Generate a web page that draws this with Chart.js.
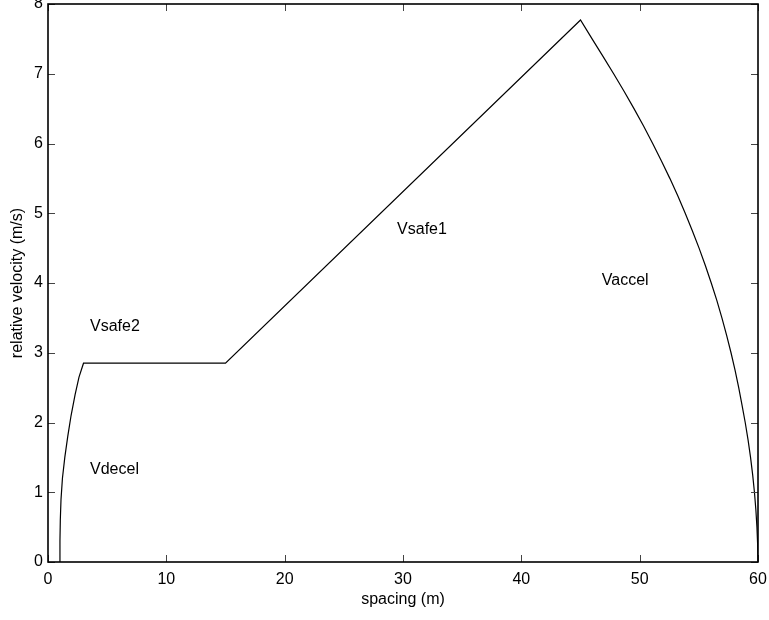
<!DOCTYPE html>
<html>
<head>
<meta charset="utf-8">
<script src="https://cdn.jsdelivr.net/npm/chart.js@4.4.1/dist/chart.umd.min.js"></script>
<style>
  body { margin: 0; background: #fff; }
  #wrap { width: 769px; height: 620px; }
</style>
</head>
<body>
<div id="wrap"><canvas id="plot" width="769" height="620"></canvas></div>
<script>
// spacing (m) vs relative velocity (m/s)
var decelX = [1.0, 1.01, 1.04, 1.1, 1.22, 1.42, 1.67, 1.95, 2.29, 2.62, 3.0];
var decelV = [0.0, 0.3, 0.6, 0.9, 1.2, 1.5, 1.8, 2.1, 2.4, 2.65, 2.85];
var safe2X = [3.0, 15.0];
var safe2V = [2.85, 2.85];
var safe1X = [15.0, 45.0];
var safe1V = [2.85, 7.77];
var accelX = [45.0, 45.98, 46.9, 47.8, 48.68, 49.52, 50.33, 51.1, 51.84, 52.55, 53.22, 53.85, 54.45, 55.02, 55.55, 56.05,
              56.52, 56.95, 57.35, 57.72, 58.06, 58.37, 58.65, 58.92, 59.16, 59.37, 59.55, 59.7, 59.82, 59.91, 59.97, 60.0];
var accelV = [7.77, 7.5, 7.25, 7.0, 6.75, 6.5, 6.25, 6.0, 5.75, 5.5, 5.25, 5.0, 4.75, 4.5, 4.25, 4.0,
              3.75, 3.5, 3.25, 3.0, 2.75, 2.5, 2.25, 2.0, 1.75, 1.5, 1.25, 1.0, 0.75, 0.5, 0.25, 0.0];

var xTicks = [0, 10, 20, 30, 40, 50, 60];
var yTicks = [0, 1, 2, 3, 4, 5, 6, 7, 8];

var regionNames = ['Vsafe2', 'Vdecel', 'Vsafe1', 'Vaccel'];
var regionX = [3.55, 3.55, 29.5, 46.8];
var regionY = [3.38, 1.33, 4.77, 4.04];

function toPoints(xs, vs) {
  var pts = [];
  for (var i = 0; i < xs.length; i++) pts.push({x: xs[i], y: vs[i]});
  return pts;
}
var curve = toPoints(decelX, decelV)
  .concat(toPoints(safe2X, safe2V))
  .concat(toPoints(safe1X, safe1V))
  .concat(toPoints(accelX, accelV));

var fontFam = '"Liberation Sans", Arial, Helvetica, sans-serif';

// matlab-like box with inward ticks, plus region labels
var boxPlugin = {
  id: 'boxPlugin',
  afterDraw: function(chart) {
    var c = chart.ctx, a = chart.chartArea;
    var xs = chart.scales.x, ys = chart.scales.y;
    c.save();
    c.strokeStyle = '#444';
    c.lineWidth = 1;
    c.beginPath();
    xTicks.forEach(function(t) {
      var px = Math.round(xs.getPixelForValue(t)) + 0.5;
      c.moveTo(px, a.bottom); c.lineTo(px, a.bottom - 7);
      c.moveTo(px, a.top); c.lineTo(px, a.top + 7);
    });
    yTicks.forEach(function(t) {
      var py = Math.round(ys.getPixelForValue(t)) + 0.5;
      c.moveTo(a.left, py); c.lineTo(a.left + 7, py);
      c.moveTo(a.right, py); c.lineTo(a.right - 7, py);
    });
    c.stroke();
    c.strokeStyle = '#000';
    c.lineWidth = 1.6;
    c.strokeRect(a.left, a.top, a.right - a.left, a.bottom - a.top);

    c.fillStyle = '#000';
    c.font = '16px ' + fontFam;
    c.textAlign = 'left';
    c.textBaseline = 'middle';
    for (var i = 0; i < regionNames.length; i++) {
      c.fillText(regionNames[i], xs.getPixelForValue(regionX[i]), ys.getPixelForValue(regionY[i]));
    }
    c.restore();
  }
};

var plot = document.getElementById('plot').getContext('2d');
var velChart = new Chart(plot, {
  type: 'scatter',
  data: {
    datasets: [{
      data: curve,
      showLine: true,
      borderColor: '#000',
      borderWidth: 1.2,
      pointRadius: 0,
      tension: 0,
      fill: false
    }]
  },
  options: {
    responsive: false,
    animation: false,
    layout: { padding: { top: 4, right: 11, left: 0, bottom: 0 } },
    plugins: { legend: { display: false }, tooltip: { enabled: false } },
    scales: {
      x: {
        type: 'linear', min: 0, max: 60,
        afterFit: function(s) { s.height = 58; s.paddingLeft = 0; s.paddingRight = 0; },
        afterBuildTicks: function(s) { s.ticks = xTicks.map(function(v) { return {value: v}; }); },
        grid: { display: false, drawTicks: false },
        border: { display: false },
        ticks: { color: '#000', font: { size: 16, family: fontFam }, padding: 8, maxRotation: 0 },
        title: { display: true, text: 'spacing (m)', color: '#000', font: { size: 16, family: fontFam }, padding: { top: 0, bottom: 11 } }
      },
      y: {
        type: 'linear', min: 0, max: 8,
        afterFit: function(s) { s.width = 48; s.paddingTop = 0; s.paddingBottom = 0; },
        afterBuildTicks: function(s) { s.ticks = yTicks.map(function(v) { return {value: v}; }); },
        grid: { display: false, drawTicks: false },
        border: { display: false },
        ticks: { color: '#000', font: { size: 16, family: fontFam }, padding: 5 },
        title: { display: true, text: 'relative velocity (m/s)', color: '#000', font: { size: 16, family: fontFam }, padding: { top: 8, bottom: 0 } }
      }
    }
  },
  plugins: [boxPlugin]
});
</script>
</body>
</html>
